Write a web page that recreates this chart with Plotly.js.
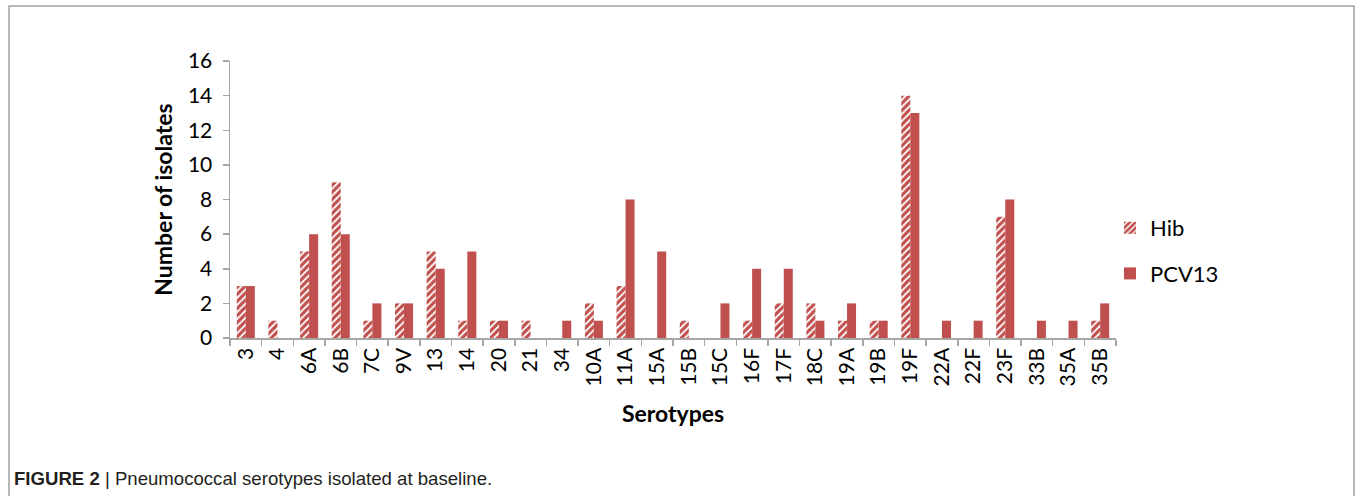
<!DOCTYPE html>
<html>
<head>
<meta charset="utf-8">
<script src="https://cdn.plot.ly/plotly-3.0.1.min.js"></script>
<style>
html,body{margin:0;padding:0;background:#fff;}
#chart{width:1357px;height:496px;}
</style>
</head>
<body>
<div id="chart"></div>
<script>
const serotypes = ["3","4","6A","6B","7C","9V","13","14","20","21","34","10A","11A","15A","15B","15C","16F","17F","18C","19A","19B","19F","22A","22F","23F","33B","35A","35B"];
const hibValues = [3,1,5,9,1,2,5,1,1,1,0,2,3,0,1,0,1,2,2,1,1,14,0,0,7,0,0,1];
const pcv13Values = [3,0,6,6,2,2,4,5,1,0,1,1,8,5,0,2,4,4,1,2,1,13,1,1,8,1,1,2];
const yTicks = [0,2,4,6,8,10,12,14,16];

const RED = "#C0504D";
const L = 230, R = 1116, T = 61, B = 338, W = 1357, H = 496;
const px = x => (x - L) / (R - L);
const py = y => (B - y) / (B - T);

const traces = [
  {
    type: "bar", name: "Hib", x: serotypes, y: hibValues, legendgroup: "a",
    marker: {color: "white", line: {width: 0},
      pattern: {shape: "/", fgcolor: RED, bgcolor: "white", size: 5, solidity: 0.65}}
  },
  {
    type: "bar", name: "PCV13", x: serotypes, y: pcv13Values, legendgroup: "b",
    marker: {color: RED, line: {width: 0}}
  }
];

const layout = {
  width: W, height: H,
  margin: {l: L, r: W - R, t: T, b: H - B},
  paper_bgcolor: "white", plot_bgcolor: "white",
  font: {family: "Lato, 'Open Sans', sans-serif", color: "#000", size: 20},
  barmode: "group", bargap: 0.43, bargroupgap: 0,
  showlegend: true,
  legend: {x: px(1110), y: py(207), xanchor: "left", yanchor: "top",
    font: {size: 22}, traceorder: "grouped", tracegroupgap: 14, itemwidth: 30,
    bgcolor: "rgba(0,0,0,0)"},
  xaxis: {
    type: "category", categoryorder: "array", categoryarray: serotypes,
    showline: true, linecolor: "#A6A6A6", linewidth: 1.5,
    ticks: "outside", tickson: "boundaries", ticklen: 6, tickcolor: "#A6A6A6", tickwidth: 1.5,
    tickangle: -90, tickfont: {size: 21},
    showgrid: false, zeroline: false,
    title: {text: "<b>Serotypes</b>", font: {size: 23}, standoff: 20}
  },
  yaxis: {
    range: [0, 16], tickvals: yTicks, ticktext: yTicks.map(String),
    showline: true, linecolor: "#A6A6A6", linewidth: 1.5,
    ticks: "outside", ticklen: 6, tickcolor: "#A6A6A6", tickwidth: 1.5,
    ticklabelstandoff: 6,
    tickfont: {size: 21}, showgrid: false, zeroline: false,
    title: {text: "<b>Number of isolates</b>", font: {size: 23}, standoff: 9}
  },
  shapes: [
    {type: "rect", xref: "paper", yref: "paper",
     x0: px(9), x1: px(1354), y0: py(6), y1: py(520),
     line: {color: "#A0A0A0", width: 1.5}, fillcolor: "rgba(0,0,0,0)"}
  ],
  annotations: [
    {xref: "paper", yref: "paper", x: px(12), y: py(478), xanchor: "left", yanchor: "middle",
     showarrow: false, align: "left",
     text: "<b>FIGURE 2</b> | Pneumococcal serotypes isolated at baseline.",
     font: {family: "'Liberation Sans', Arial, sans-serif", size: 18.6, color: "#231F20"}}
  ]
};

Plotly.newPlot("chart", traces, layout, {displayModeBar: false, staticPlot: true});
</script>
</body>
</html>
